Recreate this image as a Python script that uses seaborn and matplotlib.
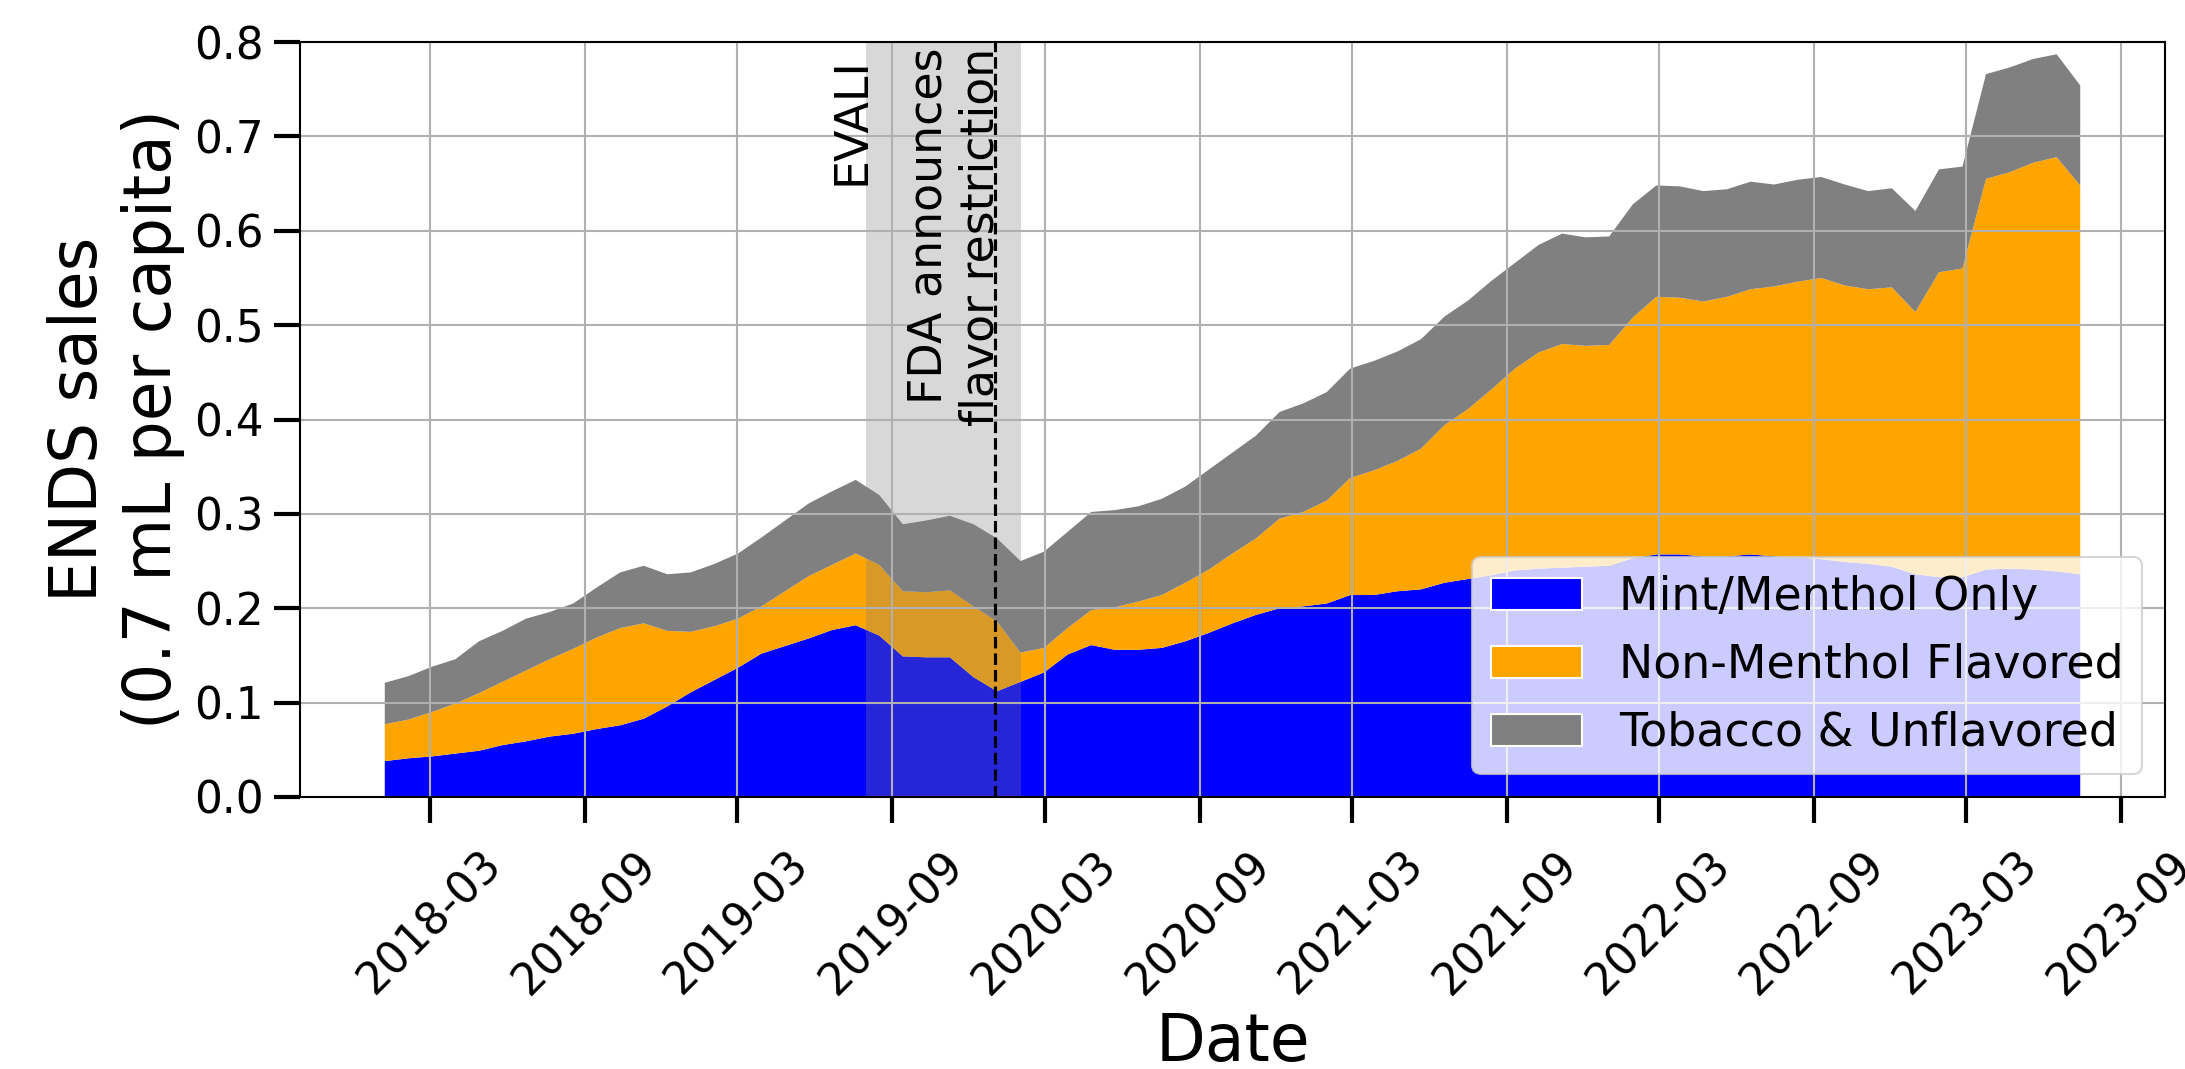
import numpy as np
import pandas as pd
import matplotlib
matplotlib.use("Agg")
import matplotlib.pyplot as plt
import matplotlib.dates as mdates
from matplotlib.patches import Patch
import seaborn as sns

# Four-week retail reporting periods
period_start = "2018-01-06"
period_days = 28

# ENDS sales by flavor group (0.7 mL per capita), one value per period
mint_menthol = [
    0.038, 0.041, 0.043, 0.046, 0.049, 0.055, 0.059, 0.064, 0.067, 0.072,
    0.076, 0.083, 0.096, 0.111, 0.124, 0.137, 0.152, 0.160, 0.168, 0.177,
    0.182, 0.171, 0.149, 0.148, 0.148, 0.127, 0.112, 0.122, 0.132, 0.151,
    0.161, 0.156, 0.156, 0.158, 0.165, 0.174, 0.184, 0.193, 0.200, 0.202,
    0.205, 0.214, 0.214, 0.218, 0.220, 0.227, 0.231, 0.235, 0.240, 0.242,
    0.243, 0.244, 0.245, 0.253, 0.257, 0.257, 0.255, 0.255, 0.257, 0.255,
    0.254, 0.252, 0.249, 0.247, 0.244, 0.236, 0.233, 0.233, 0.241, 0.242,
    0.241, 0.239, 0.236,
]
non_menthol = [
    0.039, 0.041, 0.047, 0.053, 0.061, 0.067, 0.075, 0.082, 0.090, 0.097,
    0.103, 0.101, 0.080, 0.064, 0.057, 0.052, 0.050, 0.058, 0.066, 0.069,
    0.076, 0.075, 0.069, 0.069, 0.071, 0.075, 0.074, 0.031, 0.026, 0.028,
    0.037, 0.045, 0.051, 0.056, 0.062, 0.067, 0.074, 0.081, 0.095, 0.100,
    0.109, 0.124, 0.132, 0.138, 0.149, 0.167, 0.180, 0.197, 0.214, 0.229,
    0.237, 0.234, 0.234, 0.255, 0.273, 0.272, 0.270, 0.275, 0.281, 0.286,
    0.292, 0.298, 0.293, 0.291, 0.296, 0.278, 0.323, 0.327, 0.414, 0.420,
    0.431, 0.439, 0.412,
]
tobacco_unflavored = [
    0.044, 0.046, 0.048, 0.047, 0.055, 0.054, 0.055, 0.050, 0.048, 0.053,
    0.059, 0.061, 0.060, 0.063, 0.066, 0.069, 0.073, 0.075, 0.077, 0.078,
    0.078, 0.074, 0.071, 0.076, 0.079, 0.087, 0.088, 0.097, 0.102, 0.102,
    0.104, 0.103, 0.101, 0.102, 0.102, 0.106, 0.107, 0.109, 0.113, 0.115,
    0.115, 0.116, 0.116, 0.116, 0.116, 0.115, 0.115, 0.115, 0.112, 0.114,
    0.117, 0.115, 0.115, 0.120, 0.118, 0.118, 0.117, 0.114, 0.114, 0.108,
    0.108, 0.107, 0.107, 0.104, 0.105, 0.107, 0.109, 0.108, 0.111, 0.111,
    0.110, 0.109, 0.106,
]

categories = ["Mint/Menthol Only", "Non-Menthol Flavored", "Tobacco & Unflavored"]
colors = ["blue", "orange", "gray"]

evali_start, evali_end = "2019-08-01", "2020-02-01"
fda_date = "2020-01-02"

# ---------------------------------------------------------------------------
dates = pd.date_range(period_start, periods=len(mint_menthol), freq=f"{period_days}D")
xnum = mdates.date2num(dates)

df = pd.concat(
    [
        pd.DataFrame({"date": xnum, "sales": vals, "flavor": cat})
        for cat, vals in zip(categories, [mint_menthol, non_menthol, tobacco_unflavored])
    ],
    ignore_index=True,
)

# one bin per period, centred on the period date
half = period_days / 2
edges = list(np.append(xnum - half, xnum[-1] + half))

sns.set_style("ticks")
plt.rcParams["font.family"] = ["DejaVu Sans"]
plt.rcParams.update({
    "text.color": "black",
    "axes.labelcolor": "black",
    "axes.edgecolor": "black",
    "xtick.color": "black",
    "ytick.color": "black",
})

DPI = 150
fig = plt.figure(figsize=(2185 / DPI, 1069 / DPI), dpi=DPI)
ax = fig.add_axes([300 / 2185, 272 / 1069, 1865 / 2185, 755 / 1069])

sns.histplot(
    data=df, x="date", weights="sales", hue="flavor",
    hue_order=categories[::-1], palette=dict(zip(categories, colors)),
    multiple="stack", element="poly", bins=edges, stat="count",
    alpha=1, linewidth=0, edgecolor="none", legend=False, ax=ax,
)

# EVALI period and FDA announcement
ax.axvspan(mdates.datestr2num(evali_start), mdates.datestr2num(evali_end),
           color="gray", alpha=0.3, linewidth=0)
fda_x = mdates.datestr2num(fda_date)
ax.axvline(fda_x, color="black", linestyle="--", linewidth=1.5)

ax.annotate("EVALI", xy=(mdates.datestr2num(evali_start), 0.784),
            xytext=(4, 0), textcoords="offset points",
            rotation=90, ha="right", va="top", fontsize=22)
ax.annotate("FDA announces\nflavor restriction", xy=(fda_x, 0.794),
            xytext=(4, 0), textcoords="offset points",
            rotation=90, ha="right", va="top", fontsize=22)

# axes limits, ticks, grid
span = xnum[-1] - xnum[0]
ax.set_xlim(xnum[0] - 0.05 * span, xnum[-1] + 0.05 * span)
ax.set_ylim(0, 0.8)
ax.set_yticks(np.arange(0, 0.81, 0.1))
ax.yaxis.set_major_formatter(plt.FormatStrFormatter("%.1f"))
ax.xaxis.set_major_locator(mdates.MonthLocator(bymonth=[3, 9]))
ax.xaxis.set_major_formatter(mdates.DateFormatter("%Y-%m"))

ax.set_axisbelow("line")
ax.grid(True, color="#b0b0b0", linewidth=1.0)
for s in ax.spines.values():
    s.set_visible(True)
    s.set_linewidth(1.0)
    s.set_color("black")

ax.tick_params(axis="both", direction="out", length=12.5, width=2,
               labelsize=21, colors="black")
ax.tick_params(axis="x", pad=9.5, labelrotation=45)
ax.tick_params(axis="y", pad=5)

ax.set_xlabel("Date", fontsize=31)
ax.set_ylabel("ENDS sales\n(0.7 mL per capita)", fontsize=31)

handles = [Patch(facecolor=c, label=l) for c, l in zip(colors, categories)]
ax.legend(handles=handles, loc="lower right", fontsize=22, framealpha=0.8)

fig.savefig("out.png", dpi=DPI)
